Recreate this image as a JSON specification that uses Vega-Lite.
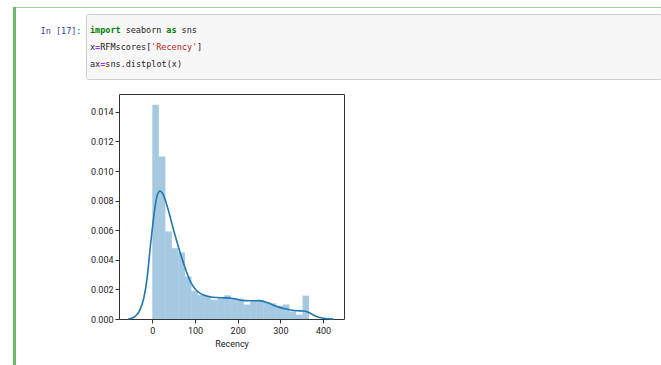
{
  "$schema": "https://vega.github.io/schema/vega-lite/v6.json",
  "padding": {"left": 13, "top": 7, "right": 0, "bottom": 0},
  "background": "white",
  "config": {
    "view": {"stroke": null},
    "axis": {"labelFont": "Roboto", "titleFont": "Roboto", "labelOverlap": false},
    "text": {"font": "DejaVu Sans Mono"}
  },
  "spacing": 0,
  "bounds": "flush",
  "hconcat": [
    {
      "width": 3, "height": 358,
      "view": {"fill": "#66bb6a", "stroke": null},
      "data": {"values": []},
      "mark": "point"
    },
    {
      "spacing": 13,
      "bounds": "full",
      "vconcat": [
        {
          "spacing": 6,
          "bounds": "flush",
          "vconcat": [
            {
              "width": 645, "height": 1,
              "view": {"fill": "#9fd4a1", "stroke": null},
              "data": {"values": []},
              "mark": "point"
            },
            {
              "spacing": 0,
              "bounds": "flush",
              "hconcat": [
                {"width": 70, "height": 65, "view": {"fill": "white", "stroke": null}, "data": {"values": []}, "mark": "point"},
                {
                  "width": 575, "height": 65,
                  "view": {"fill": "#f7f7f7", "stroke": "#cfcfcf", "strokeWidth": 1, "cornerRadius": 2},
                  "data": {"values": [
                    {"line": 1, "col": 0, "tok": "import", "kind": "kw"},
                    {"line": 1, "col": 7, "tok": "seaborn", "kind": "plain"},
                    {"line": 1, "col": 15, "tok": "as", "kind": "kw"},
                    {"line": 1, "col": 18, "tok": "sns", "kind": "plain"},
                    {"line": 2, "col": 0, "tok": "x", "kind": "plain"},
                    {"line": 2, "col": 1, "tok": "=", "kind": "op"},
                    {"line": 2, "col": 2, "tok": "RFMscores[", "kind": "plain"},
                    {"line": 2, "col": 12, "tok": "'Recency'", "kind": "str"},
                    {"line": 2, "col": 21, "tok": "]", "kind": "plain"},
                    {"line": 3, "col": 0, "tok": "ax", "kind": "plain"},
                    {"line": 3, "col": 2, "tok": "=", "kind": "op"},
                    {"line": 3, "col": 3, "tok": "sns.distplot(x)", "kind": "plain"}
                  ]},
                  "encoding": {
                    "x": {"field": "col", "type": "quantitative", "scale": {"domain": [-0.786, 112.18], "nice": false, "zero": false}, "axis": null},
                    "y": {"field": "line", "type": "quantitative", "scale": {"domain": [0.0588, 3.882], "nice": false, "zero": false, "reverse": true},
                      "axis": {"values": [1], "labelExpr": "'In [17]:'", "ticks": false, "domain": false, "grid": false, "title": null, "labelPadding": 5, "labelFont": "DejaVu Sans Mono", "labelFontSize": 8.5, "labelColor": "#303F9F", "labelBaseline": "middle"}},
                    "text": {"field": "tok", "type": "nominal"},
                    "color": {"field": "kind", "type": "nominal", "scale": {"domain": ["kw", "plain", "op", "str"], "range": ["#008000", "#222222", "#AA22FF", "#BA2121"]}, "legend": null}
                  },
                  "layer": [
                    {"transform": [{"filter": "datum.kind == 'kw' || datum.kind == 'op'"}], "mark": {"type": "text", "align": "left", "baseline": "middle", "fontSize": 8.5, "fontWeight": "bold"}},
                    {"transform": [{"filter": "datum.kind != 'kw' && datum.kind != 'op'"}], "mark": {"type": "text", "align": "left", "baseline": "middle", "fontSize": 8.5}}
                  ]
                }
              ]
            }
          ]
        },
        {
          "spacing": 0,
          "bounds": "flush",
          "hconcat": [
            {"width": 103, "height": 225, "view": {"fill": "white", "stroke": null}, "data": {"values": []}, "mark": "point"},
            {
              "width": 225, "height": 225,
              "view": {"stroke": "#333333", "strokeWidth": 1},
              "encoding": {
                "x": {"type": "quantitative", "scale": {"domain": [-78, 449], "nice": false, "zero": false},
                  "axis": {"values": [0, 100, 200, 300, 400], "title": "Recency", "grid": false, "domain": false, "tickSize": 4, "tickColor": "#333333", "labelPadding": 3, "labelFontSize": 9, "labelColor": "#222222", "titleFontSize": 9, "titleFontWeight": "normal", "titleColor": "#222222", "titlePadding": 4, "labelOverlap": false}},
                "y": {"type": "quantitative", "scale": {"domain": [0, 0.01521], "nice": false},
                  "axis": {"values": [0, 0.002, 0.004, 0.006, 0.008, 0.01, 0.012, 0.014], "format": ".3f", "title": null, "grid": false, "domain": false, "tickSize": 4, "tickColor": "#333333", "labelPadding": 2, "labelFontSize": 9, "labelColor": "#222222", "labelOverlap": false}}
              },
              "layer": [
                {
                  "data": {"values": [
                    {"bin_start": 0, "bin_end": 15.3, "density": 0.01448},
                    {"bin_start": 15.3, "bin_end": 30.6, "density": 0.01099},
                    {"bin_start": 30.6, "bin_end": 45.9, "density": 0.00592},
                    {"bin_start": 45.9, "bin_end": 61.2, "density": 0.00479},
                    {"bin_start": 61.2, "bin_end": 76.5, "density": 0.0045},
                    {"bin_start": 76.5, "bin_end": 91.8, "density": 0.00287},
                    {"bin_start": 91.8, "bin_end": 107.1, "density": 0.0019},
                    {"bin_start": 107.1, "bin_end": 122.4, "density": 0.00163},
                    {"bin_start": 122.4, "bin_end": 137.7, "density": 0.00152},
                    {"bin_start": 137.7, "bin_end": 153, "density": 0.0013},
                    {"bin_start": 153, "bin_end": 168.3, "density": 0.0014},
                    {"bin_start": 168.3, "bin_end": 183.6, "density": 0.0016},
                    {"bin_start": 183.6, "bin_end": 198.9, "density": 0.0014},
                    {"bin_start": 198.9, "bin_end": 214.2, "density": 0.00138},
                    {"bin_start": 214.2, "bin_end": 229.5, "density": 0.00098},
                    {"bin_start": 229.5, "bin_end": 244.8, "density": 0.00128},
                    {"bin_start": 244.8, "bin_end": 260.1, "density": 0.00128},
                    {"bin_start": 260.1, "bin_end": 275.4, "density": 0.00115},
                    {"bin_start": 275.4, "bin_end": 290.7, "density": 0.00106},
                    {"bin_start": 290.7, "bin_end": 306, "density": 0.0009},
                    {"bin_start": 306, "bin_end": 321.3, "density": 0.00098},
                    {"bin_start": 321.3, "bin_end": 336.6, "density": 0.00052},
                    {"bin_start": 336.6, "bin_end": 351.9, "density": 0.0003},
                    {"bin_start": 351.9, "bin_end": 367.2, "density": 0.00158}
                  ]},
                  "mark": {"type": "rect", "color": "#1f77b4", "opacity": 0.4},
                  "encoding": {
                    "x": {"field": "bin_start"},
                    "x2": {"field": "bin_end"},
                    "y": {"field": "density"},
                    "y2": {"datum": 0}
                  }
                },
                {
                  "data": {"values": [
                    {"x": -57, "density": 0}, {"x": -50, "density": 0.00004}, {"x": -40, "density": 0.00018},
                    {"x": -30, "density": 0.00055}, {"x": -20, "density": 0.0014}, {"x": -12, "density": 0.0028},
                    {"x": -5, "density": 0.0048}, {"x": 0, "density": 0.0061}, {"x": 6, "density": 0.0075},
                    {"x": 12, "density": 0.0084}, {"x": 18, "density": 0.00865}, {"x": 24, "density": 0.0085},
                    {"x": 32, "density": 0.0079}, {"x": 40, "density": 0.0071}, {"x": 50, "density": 0.006},
                    {"x": 60, "density": 0.005}, {"x": 70, "density": 0.00405}, {"x": 80, "density": 0.0032},
                    {"x": 90, "density": 0.0025}, {"x": 100, "density": 0.00205}, {"x": 110, "density": 0.00178},
                    {"x": 120, "density": 0.00162}, {"x": 135, "density": 0.0015}, {"x": 150, "density": 0.00145},
                    {"x": 170, "density": 0.00143}, {"x": 185, "density": 0.0014}, {"x": 200, "density": 0.00132},
                    {"x": 215, "density": 0.00124}, {"x": 230, "density": 0.00123}, {"x": 250, "density": 0.00124},
                    {"x": 265, "density": 0.00115}, {"x": 280, "density": 0.00098}, {"x": 295, "density": 0.00082},
                    {"x": 310, "density": 0.00069}, {"x": 325, "density": 0.00061}, {"x": 340, "density": 0.00056},
                    {"x": 355, "density": 0.00054}, {"x": 365, "density": 0.00046}, {"x": 375, "density": 0.00031},
                    {"x": 385, "density": 0.00017}, {"x": 395, "density": 0.00008}, {"x": 405, "density": 0.00003},
                    {"x": 415, "density": 0.00001}, {"x": 424, "density": 0}
                  ]},
                  "mark": {"type": "line", "color": "#1f77b4", "strokeWidth": 1.6, "interpolate": "monotone"},
                  "encoding": {
                    "x": {"field": "x"},
                    "y": {"field": "density"}
                  }
                }
              ]
            }
          ]
        }
      ]
    }
  ]
}
